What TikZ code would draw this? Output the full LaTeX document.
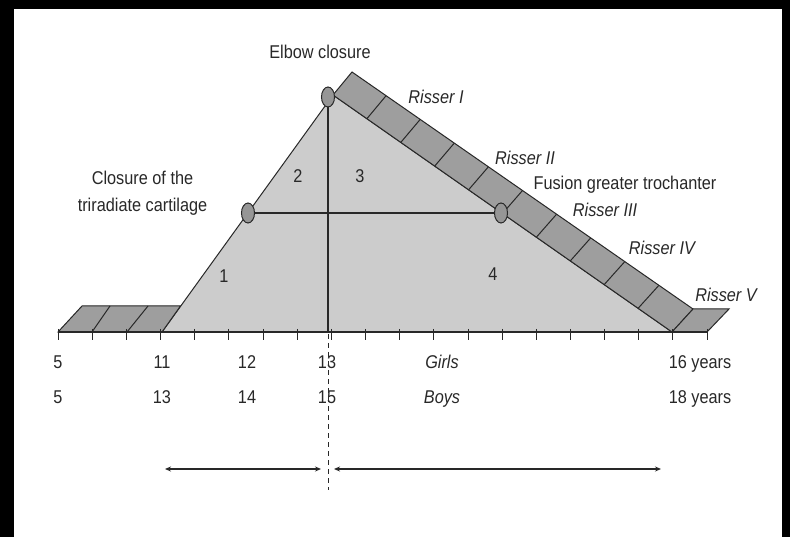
\documentclass[tikz,border=0pt]{standalone}
\usepackage{fontspec}
\setmainfont{Liberation Sans}[FakeStretch=0.88]
\usetikzlibrary{shapes.geometric,arrows.meta,calc}
\definecolor{trifill}{RGB}{204,204,204}
\definecolor{bandfill}{RGB}{158,158,158}
\definecolor{dotfill}{RGB}{150,150,150}
\definecolor{ink}{RGB}{40,40,40}
\begin{document}
\begin{tikzpicture}[x=1pt,y=-1pt,
  lab/.style={anchor=base, inner sep=0pt, text=ink, font=\fontsize{18.5}{22}\selectfont},
  ilab/.style={lab, font=\fontsize{18.5}{22}\selectfont\itshape},
  dot/.style={ellipse, draw=ink, fill=dotfill, line width=1pt, minimum width=13pt, minimum height=20pt, inner sep=0pt},
  outline/.style={draw=ink, line width=1pt},
  tick/.style={draw=ink, line width=0.8pt},
  dbl/.style={draw=ink, line width=1.4pt, {Stealth[length=6pt,width=5pt]}-{Stealth[length=6pt,width=5pt]}}
]
\useasboundingbox (0,0) rectangle (790,537);
\fill[white] (0,0) rectangle (790,537);
\fill[black] (0,0) rectangle (790,9);
\fill[black] (0,0) rectangle (14,537);
\fill[black] (782,0) rectangle (790,537);

% main triangle
\coordinate (apex) at (333,95);
\coordinate (bl) at (162,332);
\coordinate (br) at (672,332);
\filldraw[fill=trifill, outline] (bl) -- (apex) -- (br) -- cycle;

% Risser band
\coordinate (ul) at (352,72);
\coordinate (ur) at (693,309);
\filldraw[fill=bandfill, outline] (apex) -- (ul) -- (ur) -- (br) -- cycle;
\foreach \k in {1,...,9}
  \draw[outline] ($(apex)!\k/10!(br)$) -- ($(ul)!\k/10!(ur)$);

% left flat strip
\filldraw[fill=bandfill, outline] (58,332) -- (bl) -- (180.5,306) -- (82,306) -- cycle;
\draw[outline] (92,332) -- (110,306);
\draw[outline] (127,332) -- (148,306);

% right flat strip
\filldraw[fill=bandfill, outline] (br) -- (707,332) -- (729,309) -- (ur) -- cycle;

% axis
\draw[ink, line width=1.6pt] (58,332) -- (707,332);
\foreach \k in {0,...,19}
  \draw[tick] ({58+34.16*\k},329) -- ++(0,11);

% closure points
\node[dot] (elbow) at (328,97) {};
\node[dot] (tri) at (248,213) {};
\node[dot] (troch) at (501,213) {};
\coordinate (axis13) at (328,332);
\draw[ink, line width=1.3pt] (elbow) -- (axis13);
\draw[ink, line width=1.3pt] (tri) -- (troch);

% dashed divider and arrows
\coordinate (dtop) at (328,334);
\coordinate (dbot) at (328,490);
\draw[ink, line width=0.7pt, dash pattern=on 5pt off 4pt] (dtop) -- (dbot);
\coordinate (a1) at (165,469);
\coordinate (a2) at (321,469);
\coordinate (a3) at (334,469);
\coordinate (a4) at (661,469);
\draw[dbl] (a1) -- (a2);
\draw[dbl] (a3) -- (a4);

% labels
\node[lab] (lelbow) at (320,58.5) {Elbow closure};
\node[lab] (lclos1) at (142.5,184.5) {Closure of the};
\node[lab] (lclos2) at (142.5,211.5) {triradiate cartilage};
\node[ilab] (lr1) at (436,103.5) {Risser I};
\node[ilab] (lr2) at (525,164.5) {Risser II};
\node[lab] (lfus) at (625,189.5) {Fusion greater trochanter};
\node[ilab] (lr3) at (605,216.5) {Risser III};
\node[ilab] (lr4) at (662,254.5) {Risser IV};
\node[ilab] (lr5) at (726,301.5) {Risser V};
\node[lab] (n1) at (224,282.5) {1};
\node[lab] (n2) at (298,182.5) {2};
\node[lab] (n3) at (360,182.5) {3};
\node[lab] (n4) at (493,280.5) {4};

% age rows
\node[lab] (g5) at (58,368.5) {5};
\node[lab] (g11) at (162,368.5) {11};
\node[lab] (g12) at (247,368.5) {12};
\node[lab] (g13) at (327,368.5) {13};
\node[ilab] (girls) at (442,368.5) {Girls};
\node[lab] (g16) at (700,368.5) {16 years};
\node[lab] (b5) at (58,403.5) {5};
\node[lab] (b13) at (162,403.5) {13};
\node[lab] (b14) at (247,403.5) {14};
\node[lab] (b15) at (327,403.5) {15};
\node[ilab] (boys) at (442,403.5) {Boys};
\node[lab] (b18) at (700,403.5) {18 years};
\end{tikzpicture}
\end{document}
